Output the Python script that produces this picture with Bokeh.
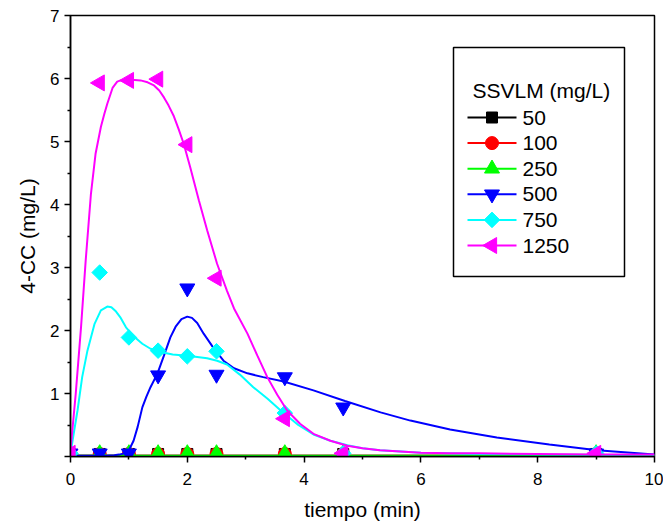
import numpy as np
from bokeh.plotting import figure
from bokeh.models import BoxAnnotation, FixedTicker, Label, Range1d
from bokeh.embed import file_html
from bokeh.resources import INLINE

# ---- data ----
series_labels = ["50", "100", "250", "500", "750", "1250"]
legend_title = "SSVLM (mg/L)"
tiempo = [0, 0.5, 1, 1.5, 2, 2.5, 3.67, 4.67, 9]

cc_50 = [0.03, 0.04, 0.04, 0.04, 0.04, 0.04, 0.04, 0.04, 0.04]
cc_100 = [0.03, 0.04, 0.04, 0.04, 0.04, 0.04, 0.04, 0.04, 0.04]
cc_250 = [0.03, 0.05, 0.05, 0.05, 0.05, 0.05, 0.05, 0.05, 0.05]
cc_500 = [0.05, 0.05, 0.05, 1.29, 2.67, 1.30, 1.26, 0.78, 0.05]
cc_750 = [0.05, 2.92, 1.89, 1.68, 1.59, 1.67, 0.69, 0.05, 0.05]
cc_1250 = [0.05, 5.93, 5.97, 5.99, 4.95, 2.83, 0.60, 0.05, 0.05]

# fitted curves
fit_x_low = [0, 10]
fit_y_50 = [0.01, 0.01]
fit_y_100 = [0.01, 0.01]
fit_y_250 = [0.01, 0.01]

fit_x_500 = [0, 0.3, 0.6, 0.75, 0.83, 0.92, 1.0, 1.08, 1.15, 1.23, 1.3, 1.37, 1.49,
             1.6, 1.71, 1.8, 1.9, 2.0, 2.08, 2.17, 2.28, 2.45, 2.62, 2.8, 3.03, 3.3,
             3.65, 4.16, 4.7, 5.31, 5.82, 6.5, 7.3, 8.2, 9.02, 10]
fit_y_500 = [0.01, 0.01, 0.01, 0.02, 0.03, 0.05, 0.1, 0.25, 0.47, 0.78, 0.95, 1.1,
             1.32, 1.6, 1.89, 2.06, 2.18, 2.22, 2.2, 2.12, 1.95, 1.72, 1.52, 1.4,
             1.32, 1.26, 1.19, 1.05, 0.88, 0.70, 0.57, 0.43, 0.3, 0.19, 0.1, 0.03]

fit_x_750 = [0, 0.12, 0.2, 0.29, 0.41, 0.52, 0.63, 0.7, 0.78, 0.86, 0.95, 1.09, 1.23,
             1.37, 1.54, 1.75, 2.0, 2.17, 2.34, 2.51, 2.68, 2.9, 3.13, 3.37, 3.6, 3.9,
             4.16, 4.45, 4.74, 5.0, 5.3, 5.65, 6, 7, 8, 10]
fit_y_750 = [0.05, 0.73, 1.26, 1.68, 2.1, 2.32, 2.38, 2.37, 2.3, 2.2, 2.05, 1.9, 1.79,
             1.71, 1.66, 1.62, 1.6, 1.58, 1.56, 1.52, 1.46, 1.3, 1.1, 0.92, 0.73, 0.5,
             0.35, 0.25, 0.18, 0.13, 0.1, 0.08, 0.06, 0.04, 0.03, 0.02]

fit_x_1250 = [0, 0.09, 0.18, 0.26, 0.35, 0.43, 0.52, 0.58, 0.63, 0.72, 0.8, 0.86, 0.95,
              1.05, 1.2, 1.32, 1.43, 1.52, 1.6, 1.68, 1.77, 1.85, 1.94, 2.05, 2.2,
              2.34, 2.51, 2.68, 2.8, 3.03, 3.2, 3.37, 3.54, 3.71, 3.93, 4.16, 4.45,
              4.74, 5.0, 5.3, 5.65, 6.0, 6.5, 7.0, 8.0, 9.0, 10.0]
fit_y_1250 = [0.1, 1.0, 2.05, 3.11, 4.17, 4.81, 5.23, 5.44, 5.6, 5.85, 5.95, 5.97,
              5.98, 5.98, 5.97, 5.94, 5.89, 5.81, 5.7, 5.57, 5.4, 5.2, 4.96, 4.59,
              4.06, 3.59, 3.06, 2.63, 2.35, 1.95, 1.6, 1.26, 0.98, 0.73, 0.52, 0.36,
              0.25, 0.17, 0.13, 0.1, 0.08, 0.06, 0.05, 0.05, 0.04, 0.03, 0.03]

x_ticks = [0, 2, 4, 6, 8, 10]
x_minor = [1, 3, 5, 7, 9]
y_ticks = [0, 1, 2, 3, 4, 5, 6, 7]
y_minor = [0.5, 1.5, 2.5, 3.5, 4.5, 5.5, 6.5]

FONT = "Liberation Sans"
W, H = 663, 524
ML, MR, MT, MB = 70, 9, 15, 68
FW, FH = W - ML - MR, H - MT - MB

p = figure(width=W, height=H, x_range=(0, 10), y_range=(0, 7),
           output_backend="svg", toolbar_location=None,
           min_border_left=ML, min_border_right=MR, min_border_top=MT,
           min_border_bottom=MB)
p.grid.visible = False
p.outline_line_color = "black"
p.outline_line_width = 1.5
p.background_fill_color = "white"
p.border_fill_color = "white"
# pixel-based ranges used only to place the legend inside the frame
p.extra_x_ranges = {"lx": Range1d(0, FW)}
p.extra_y_ranges = {"ly": Range1d(0, FH)}

for ax in (p.xaxis[0], p.yaxis[0]):
    ax.axis_line_width = 1.5
    ax.major_tick_line_width = 1.5
    ax.minor_tick_line_width = 1.5
    ax.major_tick_in = 0
    ax.minor_tick_in = 0
    ax.major_tick_out = 6
    ax.minor_tick_out = 3
    ax.major_label_text_font = FONT
    ax.major_label_text_font_size = "17px"
    ax.major_label_text_color = "black"
    ax.axis_label_text_font = FONT
    ax.axis_label_text_font_size = "21px"
    ax.axis_label_text_font_style = "normal"
    ax.axis_label_text_color = "black"

p.xaxis.ticker = FixedTicker(ticks=x_ticks, minor_ticks=x_minor)
p.yaxis.ticker = FixedTicker(ticks=y_ticks, minor_ticks=y_minor)
p.yaxis.major_label_overrides = {0: ""}
p.xaxis.axis_label = "tiempo (min)"
p.yaxis.axis_label = "4-CC (mg/L)"
p.xaxis.major_label_standoff = 10
p.xaxis.axis_label_standoff = 10
p.yaxis.major_label_standoff = 5
p.yaxis.axis_label_standoff = 8

colors = ["#000000", "#FF0000", "#00FF00", "#0000FF", "#00FFFF", "#FF00FF"]
markers = ["square", "circle", "triangle", "inverted_triangle", "square", "triangle"]
msizes = [11, 13, 15, 15, 11, 16]
angles = [0.0, 0.0, 0.0, 0.0, np.pi / 4, np.pi / 2]
fits_x = [fit_x_low, fit_x_low, fit_x_low, fit_x_500, fit_x_750, fit_x_1250]
fits_y = [fit_y_50, fit_y_100, fit_y_250, fit_y_500, fit_y_750, fit_y_1250]
values = [cc_50, cc_100, cc_250, cc_500, cc_750, cc_1250]

for i in range(len(series_labels)):
    p.line(fits_x[i], fits_y[i], line_color=colors[i], line_width=2)
    p.scatter(tiempo, values[i], marker=markers[i], size=msizes[i], angle=angles[i],
              fill_color=colors[i], line_color=colors[i])

# ---- legend (box, title, sample line + marker, label) ----
box_l, box_r, box_t, box_b = 383, 554, 409, 180
box = BoxAnnotation(left=box_l, right=box_r, top=box_t, bottom=box_b,
                    left_units="screen", right_units="screen",
                    top_units="screen", bottom_units="screen",
                    fill_color="white", fill_alpha=1.0,
                    line_color="black", line_width=1.5, line_alpha=1.0,
                    level="annotation")
p.add_layout(box)

p.add_layout(Label(x=402, y=366, x_units="screen", y_units="screen",
                   text=legend_title, text_font=FONT, text_font_size="21px",
                   text_baseline="middle", text_align="left", text_color="black",
                   level="overlay"))

row0, pitch = 339, 25.6
g0, g1 = 397, 446
for i, lab in enumerate(series_labels):
    ry = row0 - i * pitch
    p.line([g0, g1], [ry, ry], line_color=colors[i], line_width=2,
           x_range_name="lx", y_range_name="ly", level="overlay")
    p.scatter([(g0 + g1) / 2], [ry], marker=markers[i], size=msizes[i],
              angle=angles[i], fill_color=colors[i], line_color=colors[i],
              x_range_name="lx", y_range_name="ly", level="overlay")
    p.add_layout(Label(x=452, y=ry, x_units="screen", y_units="screen",
                       text=lab, text_font=FONT, text_font_size="21px",
                       text_baseline="middle", text_align="left",
                       text_color="black", level="overlay"))

open("out.html", "w").write(file_html(p, INLINE))
